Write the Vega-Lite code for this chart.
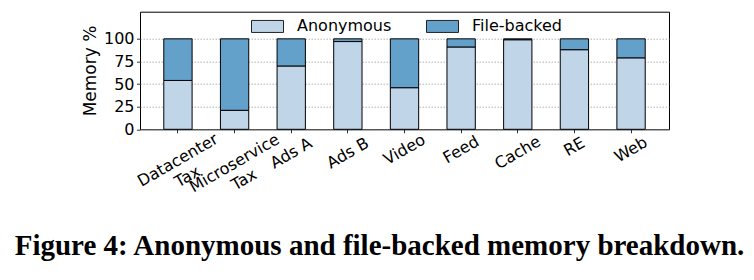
{
  "$schema": "https://vega.github.io/schema/vega-lite/v6.json",
  "autosize": "none",
  "width": 529,
  "height": 117.6,
  "padding": {"left": 140, "top": 11.7, "right": 85, "bottom": 150.7},
  "background": "white",
  "data": {
    "values": [
      {"workload": "Datacenter\nTax", "type": "Anonymous", "pct": 54},
      {"workload": "Datacenter\nTax", "type": "File-backed", "pct": 46},
      {"workload": "Microservice\nTax", "type": "Anonymous", "pct": 21},
      {"workload": "Microservice\nTax", "type": "File-backed", "pct": 79},
      {"workload": "Ads A", "type": "Anonymous", "pct": 70},
      {"workload": "Ads A", "type": "File-backed", "pct": 30},
      {"workload": "Ads B", "type": "Anonymous", "pct": 97},
      {"workload": "Ads B", "type": "File-backed", "pct": 3},
      {"workload": "Video", "type": "Anonymous", "pct": 46},
      {"workload": "Video", "type": "File-backed", "pct": 54},
      {"workload": "Feed", "type": "Anonymous", "pct": 91},
      {"workload": "Feed", "type": "File-backed", "pct": 9},
      {"workload": "Cache", "type": "Anonymous", "pct": 99},
      {"workload": "Cache", "type": "File-backed", "pct": 1},
      {"workload": "RE", "type": "Anonymous", "pct": 88},
      {"workload": "RE", "type": "File-backed", "pct": 12},
      {"workload": "Web", "type": "Anonymous", "pct": 79},
      {"workload": "Web", "type": "File-backed", "pct": 21}
    ]
  },
  "title": {
    "text": "Figure 4: Anonymous and file-backed memory breakdown.",
    "orient": "bottom",
    "anchor": "middle",
    "frame": "group",
    "font": "Liberation Serif",
    "fontSize": 29,
    "fontWeight": "bold",
    "color": "black",
    "offset": 21,
    "dx": -25
  },
  "mark": {"type": "bar", "stroke": "black", "strokeWidth": 1},
  "encoding": {
    "x": {
      "field": "workload",
      "type": "nominal",
      "sort": null,
      "scale": {"paddingInner": 0.5, "paddingOuter": 0.42},
      "axis": {
        "title": null,
        "labelAngle": -30,
        "labelAlign": "center",
        "labelBaseline": "middle",
        "labelLineHeight": 19,
        "labelExpr": "split(datum.label, '\\n')",
        "labelOverlap": false,
        "labelBound": false,
        "labelFlush": false,
        "grid": false,
        "labelPadding": {
          "condition": [
            {"test": "indexof(datum.value, 'Microservice') >= 0", "value": 30},
            {"test": "indexof(datum.value, 'Datacenter') >= 0", "value": 27},
            {"test": "indexof(datum.value, 'Ads') >= 0", "value": 20},
            {"test": "datum.value === 'Cache'", "value": 19.5},
            {"test": "datum.value === 'RE'", "value": 13.5}
          ],
          "value": 16.5
        }
      }
    },
    "y": {
      "field": "pct",
      "type": "quantitative",
      "stack": "zero",
      "scale": {"domain": [0, 130], "nice": false},
      "axis": {
        "title": "Memory %",
        "values": [0, 25, 50, 75, 100],
        "grid": true,
        "gridDash": [1.5, 1.5],
        "gridColor": "#a0a0a0",
        "gridWidth": 0.8,
        "labelPadding": 2.5,
        "titlePadding": 4,
        "titleFontSize": 17
      }
    },
    "color": {
      "field": "type",
      "type": "nominal",
      "scale": {"domain": ["Anonymous", "File-backed"], "range": ["#c1d5e9", "#63a0ca"]},
      "legend": {
        "orient": "none",
        "legendX": 111,
        "legendY": -2,
        "direction": "horizontal",
        "title": null,
        "padding": 0,
        "symbolType": "M-1,-0.375L1,-0.375L1,0.375L-1,0.375Z",
        "symbolSize": 1024,
        "symbolStrokeColor": "#222",
        "symbolStrokeWidth": 1,
        "symbolOpacity": 1,
        "labelFont": "DejaVu Sans",
        "labelFontSize": 16,
        "labelColor": "black",
        "labelOffset": 13,
        "columnPadding": 32
      }
    },
    "order": {"field": "type", "sort": "ascending"}
  },
  "config": {
    "font": "DejaVu Sans",
    "view": {"stroke": "black", "strokeWidth": 1},
    "axis": {
      "domain": false,
      "labelFont": "DejaVu Sans",
      "labelFontSize": 16,
      "labelColor": "black",
      "titleFont": "DejaVu Sans",
      "titleFontSize": 16,
      "titleFontWeight": "normal",
      "titleColor": "black",
      "tickColor": "black",
      "tickSize": 3.5,
      "tickWidth": 0.8
    }
  }
}
